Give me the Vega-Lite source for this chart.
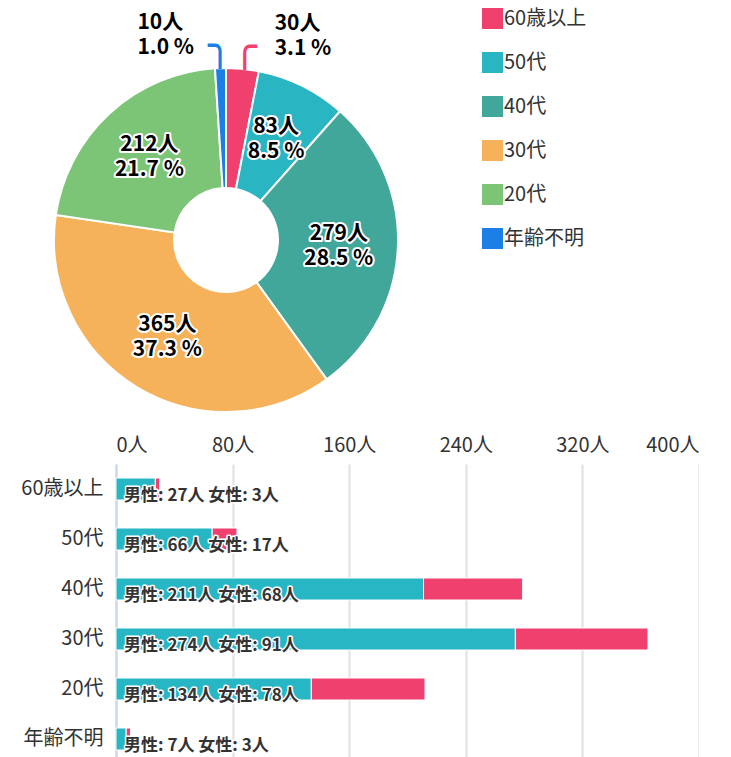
{
  "$schema": "https://vega.github.io/schema/vega-lite/v6.json",
  "padding": {"left": 0, "top": 8, "right": 0, "bottom": 0},
  "config": {
    "font": "Noto Sans CJK JP",
    "view": {"stroke": null},
    "concat": {"spacing": -40}
  },
  "resolve": {"scale": {"color": "independent"}, "legend": {"color": "independent"}},
  "datasets": {
    "pie": [
      {"age": "60歳以上", "count": 30, "rank": 1, "label": "30人\n3.1 %"},
      {"age": "50代", "count": 83, "rank": 2, "label": "83人\n8.5 %"},
      {"age": "40代", "count": 279, "rank": 3, "label": "279人\n28.5 %"},
      {"age": "30代", "count": 365, "rank": 4, "label": "365人\n37.3 %"},
      {"age": "20代", "count": 212, "rank": 5, "label": "212人\n21.7 %"},
      {"age": "年齢不明", "count": 10, "rank": 6, "label": "10人\n1.0 %"}
    ],
    "bars": [
      {"age": "60歳以上", "sex": "男性", "count": 27},
      {"age": "60歳以上", "sex": "女性", "count": 3},
      {"age": "50代", "sex": "男性", "count": 66},
      {"age": "50代", "sex": "女性", "count": 17},
      {"age": "40代", "sex": "男性", "count": 211},
      {"age": "40代", "sex": "女性", "count": 68},
      {"age": "30代", "sex": "男性", "count": 274},
      {"age": "30代", "sex": "女性", "count": 91},
      {"age": "20代", "sex": "男性", "count": 134},
      {"age": "20代", "sex": "女性", "count": 78},
      {"age": "年齢不明", "sex": "男性", "count": 7},
      {"age": "年齢不明", "sex": "女性", "count": 3}
    ],
    "barLabels": [
      {"age": "60歳以上", "label": "男性: 27人 女性: 3人"},
      {"age": "50代", "label": "男性: 66人 女性: 17人"},
      {"age": "40代", "label": "男性: 211人 女性: 68人"},
      {"age": "30代", "label": "男性: 274人 女性: 91人"},
      {"age": "20代", "label": "男性: 134人 女性: 78人"},
      {"age": "年齢不明", "label": "男性: 7人 女性: 3人"}
    ]
  },
  "vconcat": [
    {
      "width": 220,
      "height": 448,
      "data": {"name": "pie"},
      "encoding": {
        "theta": {"field": "count", "type": "quantitative", "stack": true},
        "order": {"field": "rank", "type": "quantitative"},
        "detail": {"field": "age", "type": "nominal"}
      },
      "layer": [
        {
          "mark": {"type": "arc", "outerRadius": 172, "innerRadius": 52, "stroke": "white", "strokeWidth": 2},
          "encoding": {
            "color": {
              "field": "age",
              "type": "nominal",
              "scale": {
                "domain": ["60歳以上", "50代", "40代", "30代", "20代", "年齢不明"],
                "range": ["#ef406e", "#29b5c2", "#41a79a", "#f5b25b", "#7dc576", "#1b7fe6"]
              },
              "legend": {
                "title": null,
                "orient": "none",
                "legendX": 366,
                "legendY": -8,
                "padding": 0,
                "symbolType": "square",
                "symbolSize": 441,
                "symbolStrokeWidth": 0,
                "labelFontSize": 20,
                "labelColor": "#333333",
                "labelOffset": 1,
                "rowPadding": 23
              }
            }
          }
        },
        {
          "mark": {"type": "text", "radius": 113, "dy": -12, "fontSize": 21, "fontWeight": "bold", "lineBreak": "\n", "lineHeight": 25, "fill": "white", "stroke": "white", "strokeWidth": 4, "strokeJoin": "round"},
          "encoding": {"text": {"condition": {"test": "datum.count < 50", "value": ""}, "field": "label"}}
        },
        {
          "mark": {"type": "text", "radius": 113, "dy": -12, "fontSize": 21, "fontWeight": "bold", "lineBreak": "\n", "lineHeight": 25, "fill": "black"},
          "encoding": {"text": {"condition": {"test": "datum.count < 50", "value": ""}, "field": "label"}}
        },
        {
          "mark": {"type": "text", "radius": 205, "dx": -82, "dy": -12, "align": "left", "baseline": "middle", "fontSize": 21, "fontWeight": "bold", "lineBreak": "\n", "lineHeight": 25, "fill": "black"},
          "encoding": {"text": {"condition": {"test": "datum.age !== '年齢不明'", "value": ""}, "field": "label"}}
        },
        {
          "mark": {"type": "text", "radius": 205, "dx": 29, "dy": -12, "align": "left", "baseline": "middle", "fontSize": 21, "fontWeight": "bold", "lineBreak": "\n", "lineHeight": 25, "fill": "black"},
          "encoding": {"text": {"condition": {"test": "datum.age !== '60歳以上'", "value": ""}, "field": "label"}}
        },
        {
          "mark": {"type": "text", "radius": 193, "font": "DejaVu Sans", "fontSize": 40, "align": "center", "baseline": "middle", "fill": "#1b7fe6"},
          "encoding": {"text": {"condition": {"test": "datum.age !== '年齢不明'", "value": ""}, "value": "╮"}}
        },
        {
          "mark": {"type": "text", "radius": 193, "font": "DejaVu Sans", "fontSize": 40, "align": "center", "baseline": "middle", "fill": "#ef406e"},
          "encoding": {"text": {"condition": {"test": "datum.age !== '60歳以上'", "value": ""}, "value": "╭"}}
        }
      ]
    },
    {
      "width": 583,
      "height": 300,
      "data": {"name": "bars"},
      "encoding": {
        "y": {
          "field": "age",
          "type": "nominal",
          "sort": ["60歳以上", "50代", "40代", "30代", "20代", "年齢不明"],
          "scale": {"paddingInner": 0.56, "paddingOuter": 0.28},
          "axis": {
            "title": null,
            "labelFontSize": 20,
            "labelColor": "#333333",
            "labelPadding": 13,
            "ticks": false,
            "domainColor": "#ccd6eb",
            "domainWidth": 2,
            "minExtent": 116,
            "maxExtent": 116
          }
        }
      },
      "layer": [
        {
          "mark": {"type": "bar", "stroke": "white", "strokeWidth": 1},
          "encoding": {
            "x": {
              "aggregate": "sum",
              "field": "count",
              "type": "quantitative",
              "stack": true,
              "scale": {"domain": [0, 400], "nice": false},
              "axis": {
                "orient": "top",
                "title": null,
                "values": [0, 80, 160, 240, 320, 400],
                "labelExpr": "datum.value + '人'",
                "labelFontSize": 20,
                "labelColor": "#333333",
                "labelPadding": 9,
                "ticks": false,
                "domain": false,
                "grid": true,
                "gridColor": "#e6e6e6",
                "gridWidth": 2.5
              }
            },
            "color": {
              "field": "sex",
              "type": "nominal",
              "scale": {"domain": ["男性", "女性"], "range": ["#27b6c3", "#ef406e"]},
              "legend": null
            },
            "order": {"field": "sex", "sort": "descending"}
          }
        },
        {
          "data": {"name": "barLabels"},
          "mark": {"type": "text", "align": "left", "baseline": "middle", "dx": 8, "dy": 7, "fontSize": 17, "fontWeight": "bold", "fill": "white", "stroke": "white", "strokeWidth": 3, "strokeJoin": "round"},
          "encoding": {"x": {"datum": 0, "type": "quantitative"}, "text": {"field": "label"}}
        },
        {
          "data": {"name": "barLabels"},
          "mark": {"type": "text", "align": "left", "baseline": "middle", "dx": 8, "dy": 7, "fontSize": 17, "fontWeight": "bold", "fill": "#333333"},
          "encoding": {"x": {"datum": 0, "type": "quantitative"}, "text": {"field": "label"}}
        }
      ]
    }
  ]
}
